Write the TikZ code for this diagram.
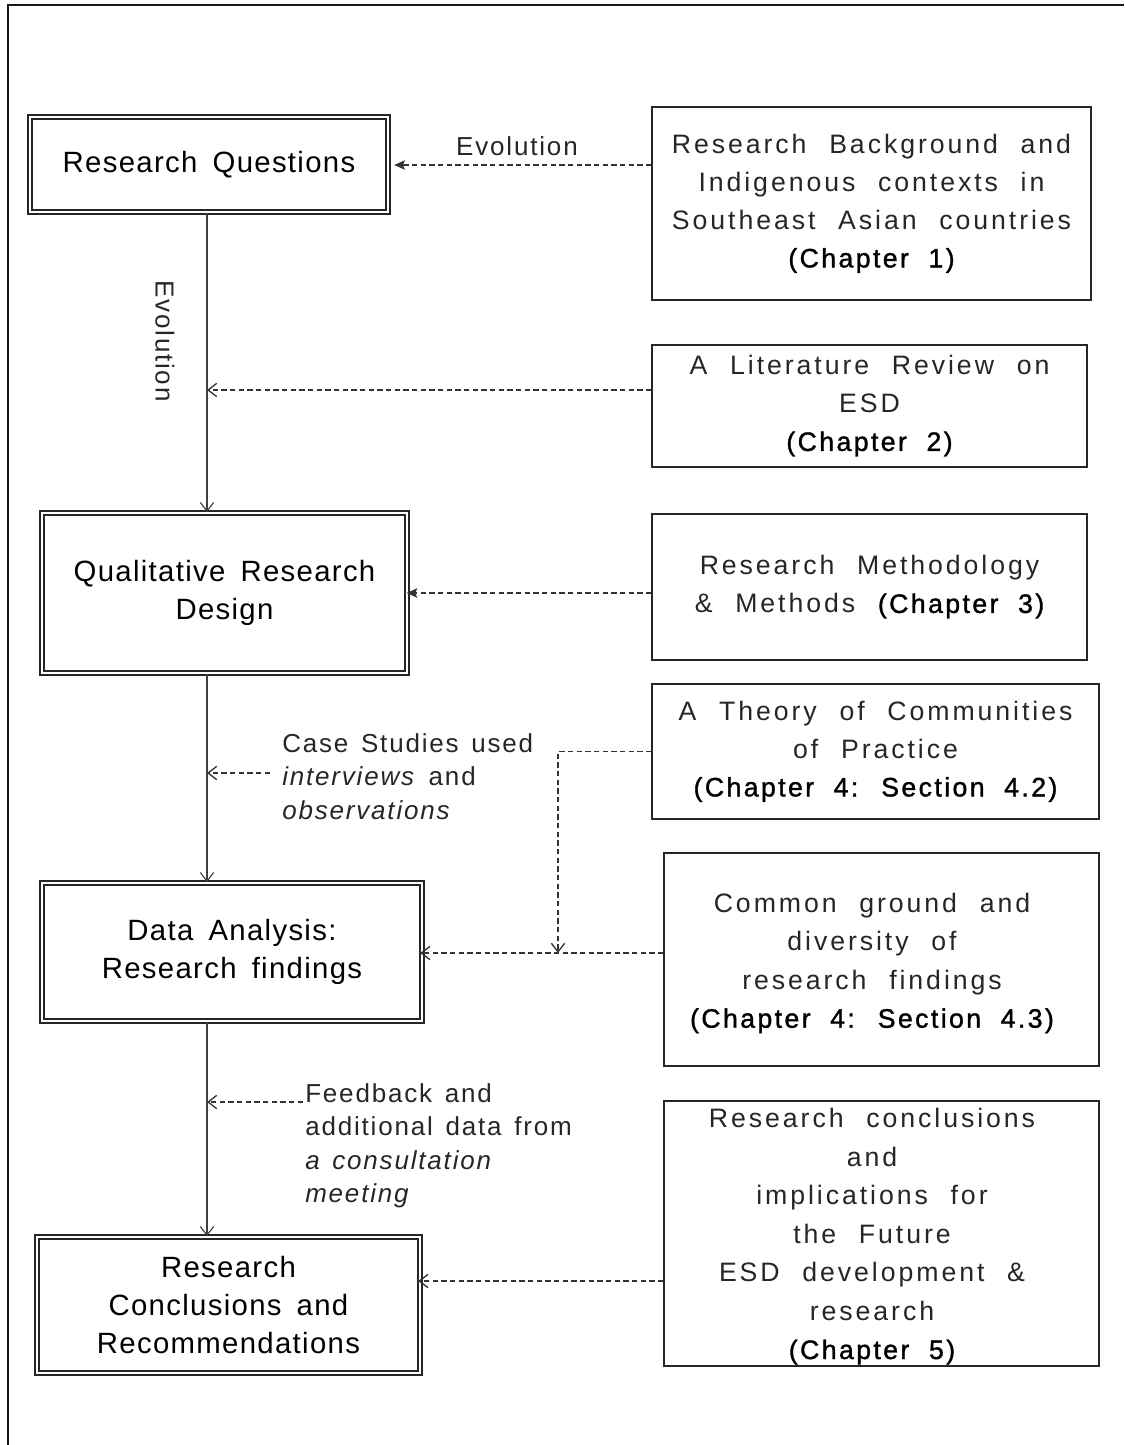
\documentclass[tikz,border=0pt]{standalone}
\usepackage{fontspec}
\setmainfont{Liberation Sans}
\newfontfamily\stagefont[LetterSpace=4.5,WordSpace=1.6]{Liberation Sans}
\newfontfamily\srcfont[LetterSpace=11,WordSpace=2.2]{Liberation Sans}
\newfontfamily\chapfont[LetterSpace=9,WordSpace=2.0,FakeBold=1.3]{Liberation Sans}
\newfontfamily\notefont[LetterSpace=7,WordSpace=1.4]{Liberation Sans}
\newcommand\chap[1]{{\chapfont\color{black}#1}}
\usetikzlibrary{arrows.meta}

\begin{document}
\begin{tikzpicture}[x=0.75pt,y=-0.75pt,
  stage/.style={draw=black!85, line width=1.35pt, double=white, double distance=1.3pt,
    align=center, inner sep=0pt, text=black,
    font=\stagefont\fontsize{22}{28.5}\selectfont},
  source/.style={draw=black!85, line width=1.1pt, align=center, inner sep=0pt,
    text=black!85, font=\srcfont\fontsize{20}{28.5}\selectfont},
  srctext/.style={align=center, inner sep=0pt, text=black!85,
    font=\srcfont\fontsize{20}{28.9}\selectfont},
  note/.style={align=left, inner sep=0pt, text=black!85,
    font=\notefont\fontsize{19.5}{25}\selectfont},
  flow/.style={draw=black!75, line width=0.85pt},
  feed/.style={draw=black!80, line width=1pt, dash pattern=on 4pt off 2.5pt},
  opentip/.style={-{Straight Barb[length=6.5pt,width=10pt]}},
  filltip/.style={-{Stealth[length=8pt,width=7pt,inset=1.5pt]}}
]
\useasboundingbox (0,0) rectangle (1124,1445);

% page frame
\draw[line width=1.2pt, black!90] (8,1445) -- (8,5) -- (1124,5);

% main stages (left column)
\node[stage, minimum width=268.5pt, minimum height=71.25pt] (rq) at (209,164.5) {Research Questions};
\node[stage, minimum width=273.75pt, minimum height=120pt] (qual) at (224.5,593) {Qualitative Research\\Design};
\node[stage, minimum width=285pt, minimum height=103.5pt] (data) at (232,952) {Data Analysis:\\Research findings};
\node[stage, minimum width=287.25pt, minimum height=102pt] (concl) at (228.5,1305) {Research\\Conclusions and\\Recommendations};

% sources (right column)
\node[source, minimum width=329.25pt, minimum height=144.75pt] (bg) at (871.5,203.5)
  {Research Background and\\Indigenous contexts in\\Southeast Asian countries\\\chap{(Chapter 1)}};
\node[source, minimum width=326.25pt, minimum height=91.5pt] (lit) at (869.5,406)
  {A Literature Review on\\ESD\\\chap{(Chapter 2)}};
\node[source, minimum width=326.25pt, minimum height=109.5pt] (meth) at (869.5,587)
  {Research Methodology\\\& Methods \chap{(Chapter 3)}};
\node[source, minimum width=335.25pt, minimum height=101.25pt] (theory) at (875.5,751.5)
  {A Theory of Communities\\of Practice\\\chap{(Chapter 4: Section 4.2)}};
\node[source, minimum width=326.25pt, minimum height=159.75pt] (common) at (881.5,959.5) {};
\node[srctext] (common-text) at (872,963)
  {Common ground and\\diversity of\\research findings\\\chap{(Chapter 4: Section 4.3)}};
\node[source, minimum width=326.25pt, minimum height=198.75pt] (future) at (881.5,1233.5) {};
\node[srctext] (future-text) at (872,1236.5)
  {Research conclusions\\and\\implications for\\the Future\\ESD development \&\\research\\\chap{(Chapter 5)}};

% side notes
\node[note] (evo-top) at (517,146) {Evolution};
\node[note, rotate=-90] (evo-side) at (165,341) {Evolution};
\node[note, anchor=north west] (case) at (282,733.5)
  {Case Studies used\\\textit{interviews} and\\\textit{observations}};
\node[note, anchor=north west] (fb) at (305,1083.5)
  {Feedback and\\additional data from\\\textit{a consultation}\\\textit{meeting}};

% helper coordinates
\coordinate (spine) at (207,0);
\coordinate (y-evo) at (0,165);
\coordinate (y-lit) at (0,390);
\coordinate (y-meth) at (0,593);
\coordinate (case-start) at (270,773);
\coordinate (merge) at (558,953);
\coordinate (fb-start) at (303,1102);
\coordinate (y-future) at (0,1281);

% main flow
\draw[flow, opentip] (rq.south -| spine) -- (qual.north -| spine);
\draw[flow, opentip] (qual.south -| spine) -- (data.north -| spine);
\draw[flow, opentip] (data.south -| spine) -- (concl.north -| spine);

% inputs
\draw[feed, filltip, shorten >=4pt] (bg.west |- y-evo) -- (rq.east |- y-evo);
\draw[feed, opentip] (lit.west |- y-lit) -- (spine |- y-lit);
\draw[feed, filltip, shorten >=-1pt] (meth.west |- y-meth) -- (qual.east |- y-meth);
\draw[feed, opentip] (case-start) -- (case-start -| spine);
\draw[feed, opentip] (theory.west) -| (merge);
\draw[feed, opentip, shorten >=-2pt] (common.west |- merge) -- (data.east |- merge);
\draw[feed, opentip] (fb-start) -- (fb-start -| spine);
\draw[feed, opentip, shorten >=-2pt] (future.west |- y-future) -- (concl.east |- y-future);
\end{tikzpicture}
\end{document}
